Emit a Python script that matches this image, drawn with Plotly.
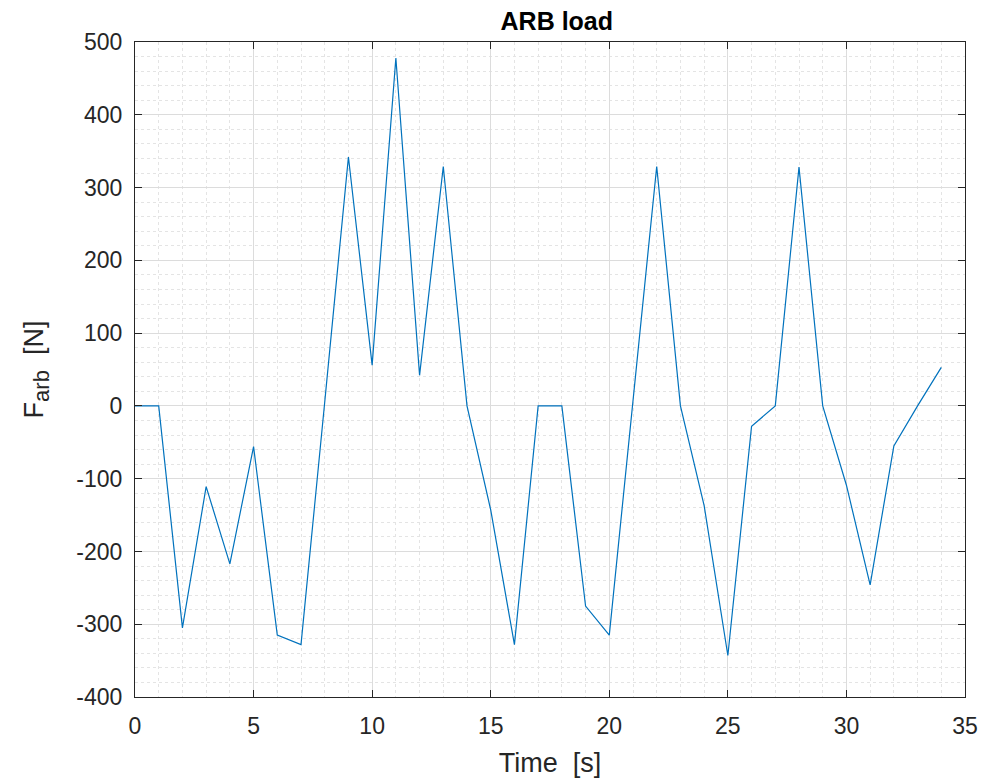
import plotly.graph_objects as go

time_s = list(range(0, 35))
f_arb = [0, 0, -305, -111, -217, -56, -315, -328, 5, 342,
         56, 478, 42, 329, 0, -143, -328, 0, 0, -275,
         -315, 7, 329, 0, -137, -343, -28, 0, 328, 0,
         -109, -246, -55, 0, 53]

x_ticks = [0, 5, 10, 15, 20, 25, 30, 35]
y_ticks = [-400, -300, -200, -100, 0, 100, 200, 300, 400, 500]
y_tick_text = [str(v) for v in y_ticks]  # ASCII hyphen minus like the reference

fig = go.Figure()
fig.add_trace(go.Scatter(x=time_s, y=f_arb, mode="lines",
                         line=dict(color="#0072BD", width=1.2),
                         showlegend=False))

font_family = "Liberation Sans, Arial, sans-serif"
axis_common = dict(
    showline=True, linecolor="#262626", linewidth=1, mirror="allticks",
    ticks="inside", ticklen=7, tickcolor="#262626", tickwidth=1,
    showgrid=True, gridcolor="#dcdcdc", gridwidth=1,
    zeroline=False, automargin=False,
    tickfont=dict(family=font_family, size=23, color="#262626"),
)

fig.update_xaxes(range=[0, 35], tickvals=x_ticks, **axis_common,
                 ticklabelstandoff=8,
                 minor=dict(dtick=1, showgrid=True, gridcolor="#e4e4e4",
                            griddash="dot", gridwidth=1, ticks=""),
                 title=dict(text="Time\u00a0\u00a0[s]", standoff=15,
                            font=dict(family=font_family, size=27, color="#262626")))
fig.update_yaxes(range=[-400, 500], tickvals=y_ticks, ticktext=y_tick_text,
                 **axis_common, ticklabelstandoff=7,
                 minor=dict(dtick=20, showgrid=True, gridcolor="#e4e4e4",
                            griddash="dot", gridwidth=1, ticks=""),
                 title=dict(text="F<sub><span style=\"font-size:22px\">arb</span></sub>\u00a0\u00a0[N]",
                            standoff=24,
                            font=dict(family=font_family, size=27, color="#262626")))

fig.update_layout(
    width=989, height=779,
    margin=dict(l=135, r=24, t=42, b=82),
    paper_bgcolor="white", plot_bgcolor="white",
    title=dict(text="<b>ARB load</b>", x=0.563, xanchor="center",
               y=0.973, yanchor="middle",
               font=dict(family=font_family, size=25, color="#000000")),
)

fig.write_html("out.html")
